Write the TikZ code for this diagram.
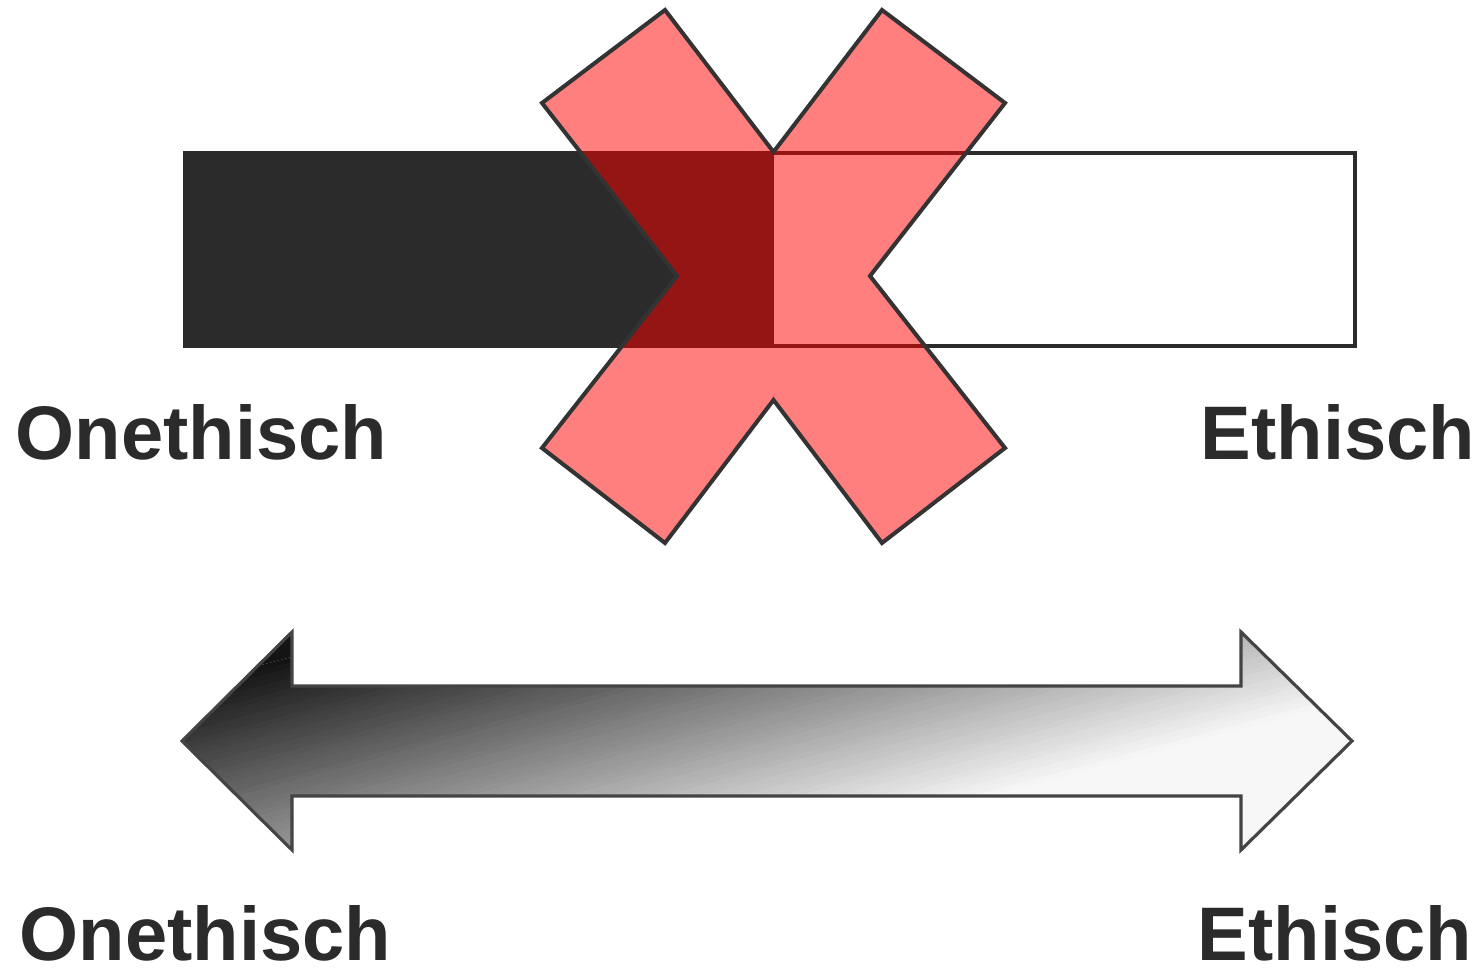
\documentclass[tikz,border=0pt]{standalone}
\usepackage{fontspec}
\setmainfont{Liberation Sans}
\usepackage{tikz}
\usetikzlibrary{positioning}
\definecolor{mdark}{HTML}{2B2B2B}
\definecolor{mline}{HTML}{333333}
\definecolor{mred}{rgb}{1, 0, 0}
\definecolor{mblack}{HTML}{141414}
\definecolor{mlight}{HTML}{F7F7F7}
\definecolor{marrow}{HTML}{444444}
\tikzset{word/.style = {font=\fontsize{21.6}{26}\selectfont\bfseries, text=mdark,
                        inner sep=0, anchor=base west}}
\tikzset{cross/.style = {fill=mred, fill opacity=0.5, draw=mline,
                         line width=1.15pt, line join=miter}}
\tikzset{arrowline/.style = {draw=marrow, line width=0.9pt, line join=miter}}

\begin{document}
\begin{tikzpicture}
  \useasboundingbox (0,0) rectangle (14.81,-9.71);

  % scale bar
  \fill [mdark] (1.85,-1.53) rectangle (7.74,-3.46);
  \draw [mdark, line width=1pt] (1.85,-1.53) rectangle (13.55,-3.46);

  % the cross
  \draw [cross] (6.65,-0.10) -- (7.735,-1.52) -- (8.82,-0.10) -- (10.05,-1.03)
        -- (8.70,-2.76) -- (10.05,-4.48) -- (8.82,-5.43) -- (7.735,-4.00)
        -- (6.65,-5.43) -- (5.42,-4.48) -- (6.77,-2.76) -- (5.42,-1.03) -- cycle;

  % double arrow
  \coordinate (tipL) at (1.82,-7.41);
  \coordinate (tipR) at (13.52,-7.41);
  \coordinate (hLt) at (2.92,-6.32);
  \coordinate (hLb) at (2.92,-8.50);
  \coordinate (hRt) at (12.41,-6.32);
  \coordinate (hRb) at (12.41,-8.50);
  \coordinate (sLt) at (2.92,-6.86);
  \coordinate (sLb) at (2.92,-7.96);
  \coordinate (sRt) at (12.41,-6.86);
  \coordinate (sRb) at (12.41,-7.96);
  \begin{scope}
    \clip (tipL) -- (hLt) -- (sLt) -- (sRt) -- (hRt) -- (tipR) -- (hRb)
          -- (sRb) -- (sLb) -- (hLb) -- cycle;
    \fill [mlight] (0,0) rectangle (14.81,-9.71);
    \begin{scope}[rotate=-75]
      \fill [mblack] (4,-3) rectangle (7.1,14);
      \foreach \k in {0,...,63} {
        \pgfmathtruncatemacro\p{100-\k*100/63}
        \fill [mblack!\p!mlight] (7.1+\k*0.05,-3) rectangle (7.17+\k*0.05,14);
      }
    \end{scope}
  \end{scope}
  \draw [arrowline] (tipL) -- (hLt) -- (sLt) -- (sRt) -- (hRt) -- (tipR) -- (hRb)
        -- (sRb) -- (sLb) -- (hLb) -- cycle;

  \node [word] (oneTop) at (0.15,-4.60) {Onethisch};
  \node [word] (ethTop) at (12.00,-4.60) {Ethisch};
  \node [word] (oneBot) at (0.19,-9.60) {Onethisch};
  \node [word] (ethBot) at (11.97,-9.60) {Ethisch};
\end{tikzpicture}
\end{document}
